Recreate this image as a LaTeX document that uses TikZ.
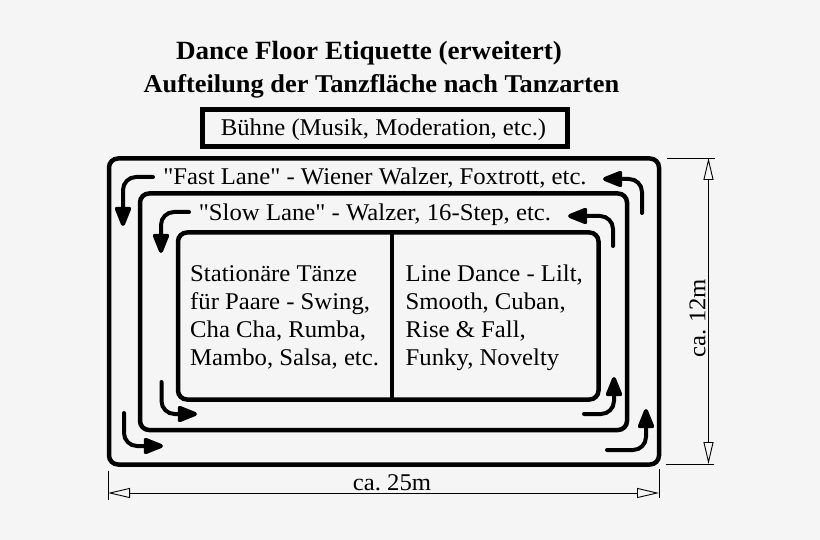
\documentclass[tikz,border=0pt]{standalone}
\usepackage{fontspec}
\usetikzlibrary{arrows.meta}
\setmainfont{Liberation Serif}[FakeStretch=1.03,Ligatures=TeXOff]
\definecolor{bg}{HTML}{F5F5F5}
\frenchspacing
\tikzset{
  x=1pt,y=-1pt,
  frame/.style={draw=black,line width=4.5pt,rounded corners=9pt,inner sep=0pt,outer sep=0pt,anchor=north west},
  plainbox/.style={draw=black,line width=4.5pt,inner sep=0pt,outer sep=0pt,anchor=north west},
  label/.style={inner sep=0pt,text=black,font=\fontsize{24}{28}\selectfont},
  title/.style={inner sep=0pt,text=black,font=\fontsize{25.6}{30}\selectfont\bfseries},
  flow/.style={draw=black,line width=4pt,line cap=round,rounded corners=13pt,-{Triangle[length=23pt,width=17pt,round]}},
  wall/.style={draw=black,line width=3.5pt},
  dim/.style={draw=black,line width=0.9pt,{Triangle[open,fill=bg,length=22pt,width=10pt]}-{Triangle[open,fill=bg,length=22pt,width=10pt]}},
  ext/.style={draw=black,line width=0.9pt}
}
\begin{document}
\begin{tikzpicture}
\useasboundingbox[fill=bg] (0,0) rectangle (820,540);
\node[title,font=\fontsize{26.3}{30}\selectfont\bfseries] (t1) at (369,53.5) {Dance Floor Etiquette (erweitert)};
\node[title] (t2) at (381.5,86.5) {Aufteilung der Tanzfläche nach Tanzarten};
\node[plainbox,minimum width=365pt,minimum height=37pt] (stage) at (202.5,109.5) {};
\node[label] (stagetext) at (383.5,129.5) {Bühne (Musik, Moderation, etc.)};
\node[frame,minimum width=550pt,minimum height=306pt] (outer) at (109,158.5) {};
\node[frame,minimum width=487pt,minimum height=236.5pt] (middle) at (140,193.5) {};
\node[frame,minimum width=420.5pt,minimum height=167pt] (inner) at (178,232.5) {};
\coordinate (divtop) at (392,232.5);
\coordinate (divbot) at (392,399.5);
\draw[wall] (divtop) -- (divbot);
\node[label] (fast) at (375,178.5) {"Fast Lane" - Wiener Walzer, Foxtrott, etc.};
\node[label] (slow) at (375,214.5) {"Slow Lane" - Walzer, 16-Step, etc.};
\node[label,align=left,anchor=north west] (left) at (190,265) {Stationäre Tänze\\für Paare - Swing,\\Cha Cha, Rumba,\\Mambo, Salsa, etc.};
\node[label,align=left,anchor=north west] (right) at (405.5,265) {Line Dance - Lilt,\\Smooth, Cuban,\\Rise \& Fall,\\Funky, Novelty};
% flow arrows
\draw[flow] (153,177) -- (123,177) -- (123,226);
\draw[flow] (189,212) -- (161,212) -- (161,253);
\draw[flow] (161.5,382) -- (161.5,414) -- (197,414);
\draw[flow] (124,413) -- (124,446) -- (163,446);
\draw[flow] (642,213) -- (642,179) -- (603,179);
\draw[flow] (613,246) -- (613,216) -- (568,216);
\draw[flow] (584,414) -- (614,414) -- (614,377);
\draw[flow] (607,450) -- (646,450) -- (646,409);
% dimensions
\coordinate (hl) at (108,493); \coordinate (hr) at (659,493);
\coordinate (vt) at (708.5,158); \coordinate (vb) at (708.5,464);
\draw[dim] (hl) -- (hr);
\draw[dim] (vt) -- (vb);
\coordinate (e1a) at (108,471); \coordinate (e1b) at (108,500);
\coordinate (e2a) at (659.5,469); \coordinate (e2b) at (659.5,498);
\coordinate (e3a) at (667,158); \coordinate (e3b) at (715,158);
\coordinate (e4a) at (666,464); \coordinate (e4b) at (714,464);
\draw[ext] (e1a) -- (e1b);
\draw[ext] (e2a) -- (e2b);
\draw[ext] (e3a) -- (e3b);
\draw[ext] (e4a) -- (e4b);
\node[label] (w) at (392,483) {ca. 25m};
\node[label,rotate=90] (h) at (697.5,318) {ca. 12m};
\end{tikzpicture}
\end{document}
